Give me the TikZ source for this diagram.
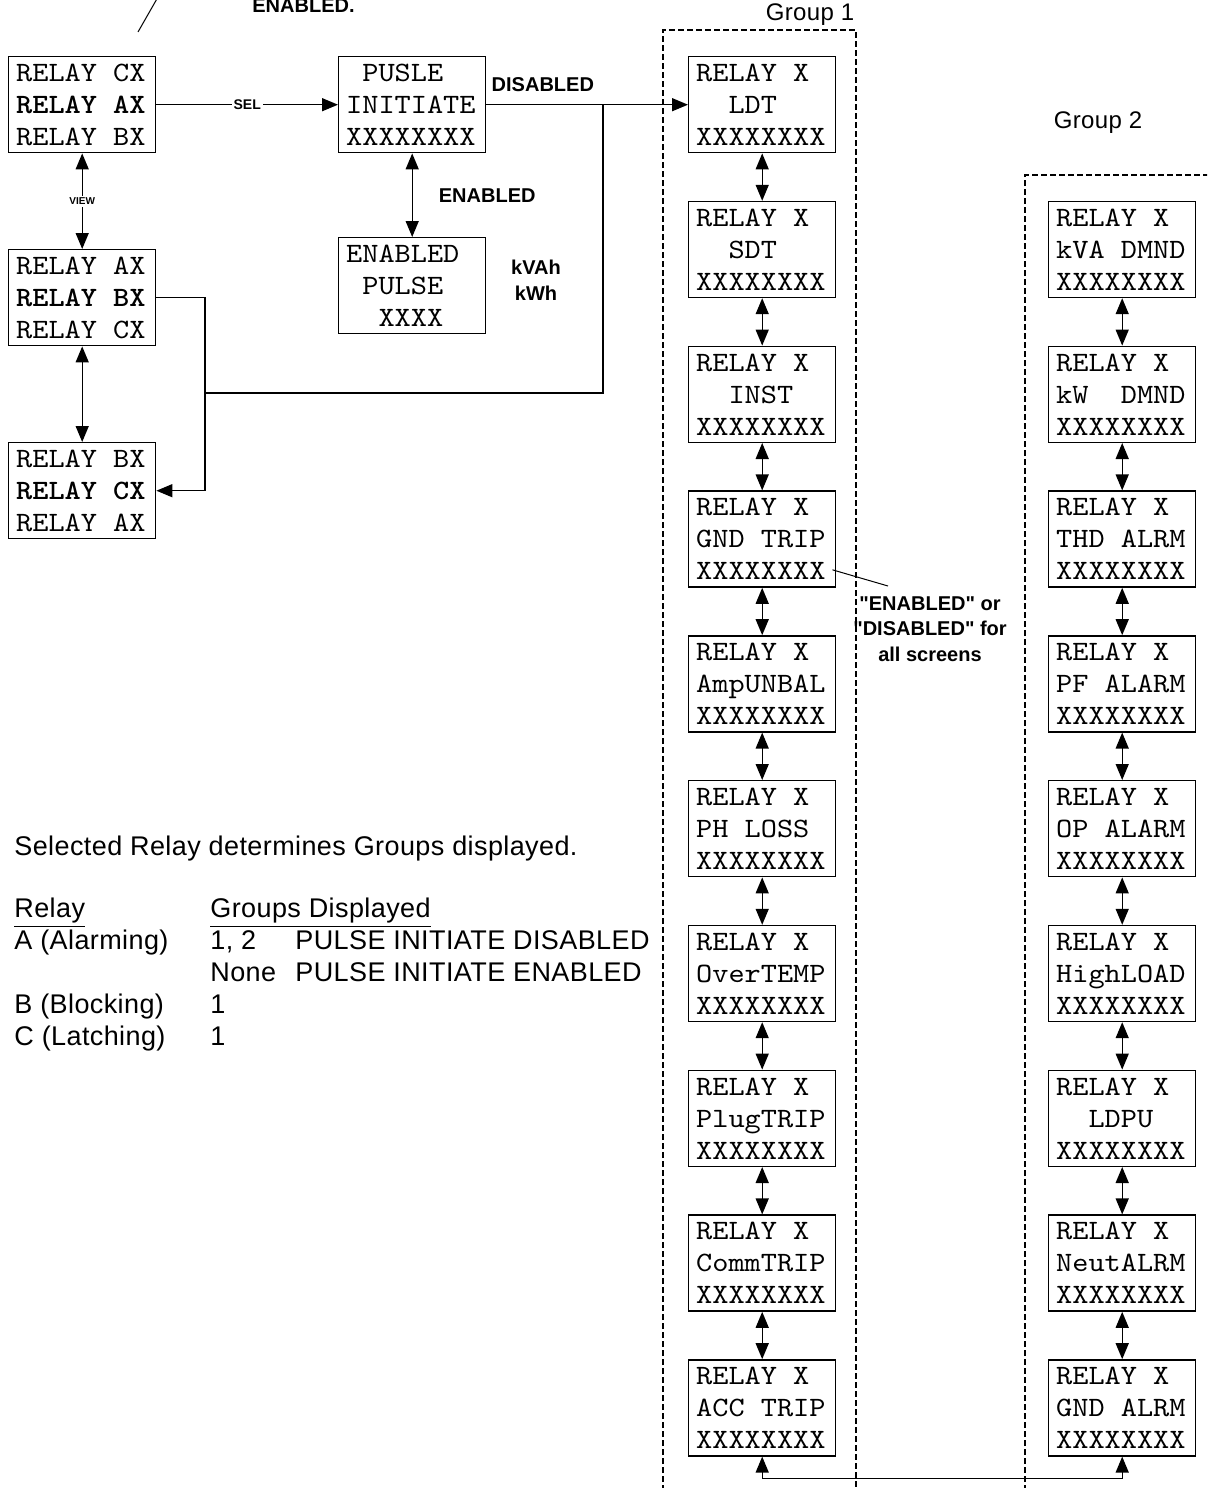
\documentclass[tikz,border=0pt]{standalone}
\usepackage{fontspec}
\newfontfamily\helv{Liberation Sans}
\newfontfamily\helvw{Liberation Sans}[LetterSpace=1.5]
\newfontfamily\mono{lmmono10-regular}[Extension=.otf, BoldFont=lmmonolt10-bold, FakeStretch=1.1]
\newcommand\chsp{\hphantom{X}}
\usetikzlibrary{arrows.meta}

\tikzset{
  screen/.style={draw, line width=0.7pt, anchor=north west, minimum width=73.5pt,
    minimum height=48pt, text width=66pt, inner xsep=3.75pt, inner ysep=0pt,
    align=left, font=\mono\fontsize{14}{16}\selectfont},
  link/.style={line width=0.7pt},
  tip/.style={-{Triangle[length=8pt,width=6.5pt]}},
  twotip/.style={{Triangle[length=8pt,width=6.5pt]}-{Triangle[length=8pt,width=6.5pt]}},
  grp/.style={line width=0.6pt, dash pattern=on 3pt off 1.5pt},
  lbl/.style={font=\helv\bfseries\fontsize{10}{13}\selectfont, inner sep=1pt},
  txt/.style={font=\helvw\fontsize{13.5}{16}\selectfont, inner sep=0pt}
}

\begin{document}
\begin{tikzpicture}[x=0.5pt, y=-0.5pt]
  \clip (0,0) rectangle (1207,1488);
  % note cut off at the top
  \draw[line width=0.5pt] (138,32) -- (158,-3);
  \node[lbl, anchor=base west] (topnote) at (250,12) {ENABLED.};

  % relay selection
  \node[screen] (rly1) at (8,56) {RELAY\chsp CX\\\textbf{RELAY\chsp AX}\\RELAY\chsp BX};
  \node[screen] (rly2) at (8,249) {RELAY\chsp AX\\\textbf{RELAY\chsp BX}\\RELAY\chsp CX};
  \node[screen] (rly3) at (8,442) {RELAY\chsp BX\\\textbf{RELAY\chsp CX}\\RELAY\chsp AX};
  \draw[link, twotip] (rly1) -- node[fill=white, inner sep=1pt, font=\helv\bfseries\fontsize{5}{6}\selectfont] {VIEW} (rly2);
  \draw[link, twotip] (rly2) -- (rly3);

  % pulse initiate
  \node[screen] (pulse) at (338,56) {\chsp PUSLE\\INITIATE\\XXXXXXXX};
  \node[screen] (enab) at (338,237) {ENABLED\\\chsp PULSE\\\chsp\chsp XXXX};
  \node[lbl, align=center] (units) at (536,280) {kVAh\\kWh};
  \draw[link, tip] (rly1) -- node[fill=white, inner sep=1pt, font=\helv\bfseries\fontsize{7}{8}\selectfont] {SEL} (pulse);
  \draw[link, twotip] (pulse) -- node[lbl, right=12pt] {ENABLED} (enab);

  % group 1
  \draw[grp] (663,1500) -- (663,30) -- (856,30) -- (856,1500);
  \node[font=\helvw\fontsize{12}{14}\selectfont] (grp1) at (810,15) {Group 1};
  \foreach \entry [count=\i] in {\chsp\chsp LDT, \chsp\chsp SDT, \chsp\chsp INST,
      GND\chsp TRIP, AmpUNBAL, PH\chsp LOSS, OverTEMP, PlugTRIP, CommTRIP, ACC\chsp TRIP}
    \node[screen] (ga\i) at (688,{56+144.8*(\i-1)}) {RELAY\chsp X\\\entry\\XXXXXXXX};
  \foreach \i in {1,...,9} {
    \pgfmathtruncatemacro\j{\i+1}
    \draw[link, twotip] (ga\i) -- (ga\j);
  }

  % group 2
  \draw[grp] (1025,1500) -- (1025,175) -- (1215,175);
  \node[font=\helvw\fontsize{12}{14}\selectfont] (grp2) at (1098,123) {Group 2};
  \foreach \entry [count=\i from 2] in {kVA\chsp DMND, kW\chsp\chsp DMND, THD\chsp ALRM,
      PF\chsp ALARM, OP\chsp ALARM, HighLOAD, \chsp\chsp LDPU, NeutALRM, GND\chsp ALRM}
    \node[screen] (gb\i) at (1048,{56+144.8*(\i-1)}) {RELAY\chsp X\\\entry\\XXXXXXXX};
  \foreach \i in {2,...,9} {
    \pgfmathtruncatemacro\j{\i+1}
    \draw[link, twotip] (gb\i) -- (gb\j);
  }
  \draw[link, twotip] (ga10.south) -- ++(0,22) -| (gb10.south);

  % disabled branch
  \draw[link, tip] (pulse) -- node[lbl, pos=0.28, above=5pt] {DISABLED} (ga1);
  \coordinate (tee) at (603,104);
  \coordinate (jn) at (205,393);
  \draw[link] (tee) |- (jn);
  \draw[link, tip] (rly2.east) -| (jn) |- (rly3.east);

  % callout
  \node[lbl, align=center, font=\helv\bfseries\fontsize{10}{12.75}\selectfont] (note) at (930,629)
    {\textquotedbl ENABLED\textquotedbl{} or\\\textquotedbl DISABLED\textquotedbl{} for\\all screens};
  \coordinate (ptr) at (888,586);
  \draw[line width=0.5pt] ([shift={(-4,-18)}]ga4.south east) -- (ptr);

  % table
  \node[txt, anchor=base west] (sel) at (14,855) {Selected Relay determines Groups displayed.};
  \node[txt, anchor=north west] (tbl) at (14,895) {\begin{tabular}{@{}p{98pt}@{}p{42.5pt}@{}l@{}}
    \underline{Relay} & \multicolumn{2}{@{}l@{}}{\underline{Groups Displayed}}\\
    A (Alarming) & 1, 2 & PULSE INITIATE DISABLED\\
    & None & PULSE INITIATE ENABLED\\
    B (Blocking) & 1 & \\
    C (Latching) & 1 &
  \end{tabular}};
\end{tikzpicture}
\end{document}
